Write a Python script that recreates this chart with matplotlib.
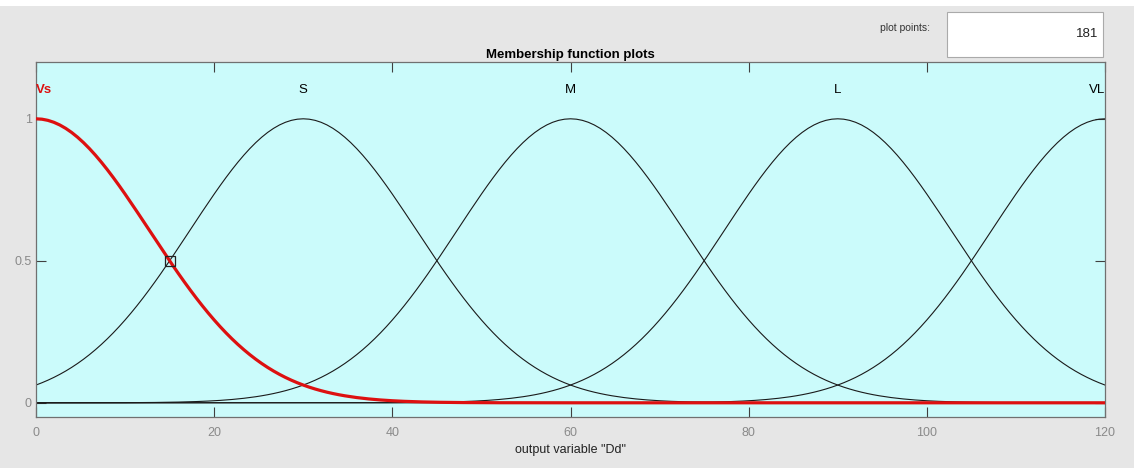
import numpy as np
import matplotlib
matplotlib.use("Agg")
import matplotlib.pyplot as plt
from matplotlib.patches import Rectangle

plt.rcParams['font.family'] = ['Liberation Sans Narrow', 'Liberation Sans', 'DejaVu Sans']

# membership functions (gaussmf parameters)
mf_names = ["Vs", "S", "M", "L", "VL"]
mf_centers = [0, 30, 60, 90, 120]
mf_sigmas = [12.74, 12.74, 12.74, 12.74, 12.74]
x_range = [0, 120]
n_points = 181
x_ticks = [0, 20, 40, 60, 80, 100, 120]
y_ticks = [0, 0.5, 1]
y_tick_labels = ["0", "0.5", "1"]
selected = 0
marker_point = (15, 0.5)

W, H = 1134, 468
fig = plt.figure(figsize=(W / 100, H / 100), dpi=100, facecolor="#e6e6e6")
# white strip at top
fig.patches.append(Rectangle((0, 1 - 6 / H), 1, 6 / H, transform=fig.transFigure,
                             facecolor="white", edgecolor="none", zorder=0))

ax = fig.add_axes([36 / W, 1 - 417 / H, (1105 - 36) / W, (417 - 62) / H])
ax.set_facecolor("#cbfbfb")

x = np.linspace(x_range[0], x_range[1], n_points)
for i, (c, s) in enumerate(zip(mf_centers, mf_sigmas)):
    y = np.exp(-((x - c) ** 2) / (2 * s ** 2))
    if i == selected:
        ax.plot(x, y, color="#dd1010", lw=2.3, zorder=3)
    else:
        ax.plot(x, y, color="#1a1a1a", lw=0.8, zorder=2)

# labels for MFs
for i, (name, c) in enumerate(zip(mf_names, mf_centers)):
    if c <= x_range[0]:
        ha = "left"
    elif c >= x_range[1]:
        ha = "right"
    else:
        ha = "center"
    ax.text(c, 1.1, name, ha=ha, va="center", fontsize=9.5,
            color="#dd1010" if i == selected else "black",
            fontweight="bold" if i == selected else "normal", zorder=4)

ax.plot([marker_point[0]], [marker_point[1]], marker="s", ms=7, mfc="none",
        mec="#222222", mew=0.9, zorder=5)

ax.set_xlim(x_range)
ax.set_ylim(-0.05, 1.2)
ax.set_xticks(x_ticks)
ax.set_yticks(y_ticks)
ax.set_yticklabels(y_tick_labels)
ax.tick_params(direction="in", top=True, right=True, labelsize=9,
               labelcolor="#8a8a8a", color="#404040", length=7, width=0.8)
ax.tick_params(axis="x", pad=7)
ax.tick_params(axis="y", pad=3)
for sp in ax.spines.values():
    sp.set_color("#707070")
    sp.set_linewidth(0.9)

ax.set_xlabel('output variable "Dd"', fontsize=9, color="#222222", labelpad=4)
ax.set_title("Membership function plots", fontsize=9.5, fontweight="bold", pad=3)

# plot points control
fig.text(930 / W, 1 - 28 / H, "plot points:", ha="right", va="center",
         fontsize=7.5, color="#333333")
fig.patches.append(Rectangle((947 / W, 1 - 57 / H), (1103 - 947) / W, (57 - 12) / H,
                             transform=fig.transFigure, facecolor="white",
                             edgecolor="#aaaaaa", lw=0.8, zorder=1))
fig.text(1098 / W, 1 - 34 / H, str(n_points), ha="right", va="center",
         fontsize=9.5, color="#222222")

fig.savefig("out.png", dpi=100, facecolor=fig.get_facecolor())
